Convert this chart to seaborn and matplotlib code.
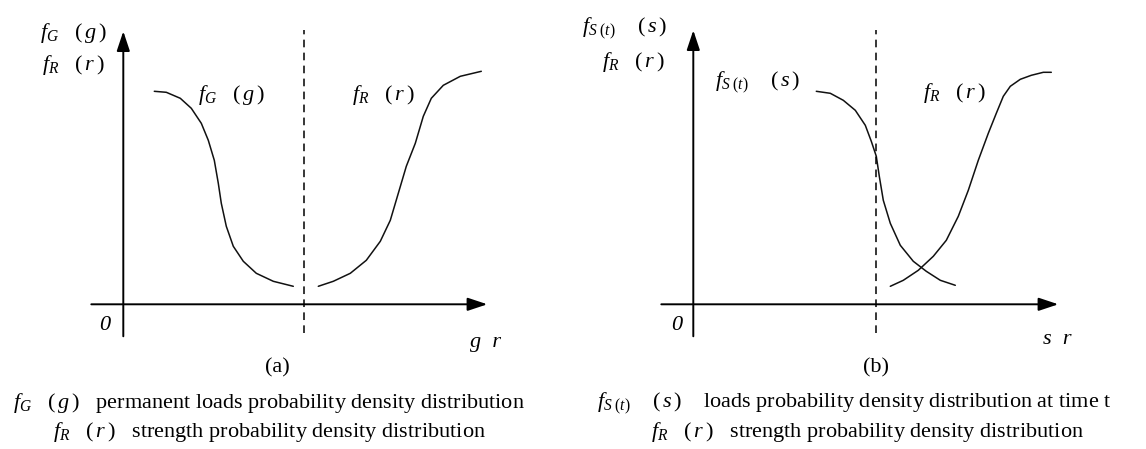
import matplotlib
matplotlib.use("Agg")
import matplotlib.pyplot as plt
import seaborn as sns
import pandas as pd

# Curve points read off the picture, in pixels measured from each panel's origin
# panel (a): the two curves are separated
a_load_x = [31, 43, 57, 68, 78, 85, 91, 95, 98, 103, 110, 120, 133, 150, 170]
a_load_y = [213, 212, 206, 196, 181, 164, 144, 121, 101, 78, 58, 43, 31, 23, 18]
a_strength_x = [195, 210, 227, 243, 257, 267, 275, 283, 292, 300, 308, 320, 337, 358]
a_strength_y = [18, 23, 31, 44, 63, 84, 111, 138, 161, 188, 206, 219, 228, 233]
a_split = 181

# panel (b): the curves overlap
b_load_x = [123, 137, 150, 162, 172, 178, 183, 186, 190, 197, 207, 220, 233, 247, 262]
b_load_y = [213, 211, 204, 194, 179, 163, 148, 128, 104, 81, 59, 43, 33, 24, 19]
b_strength_x = [197, 210, 225, 240, 253, 265, 275, 285, 295, 303, 310, 317, 327, 338, 350, 358]
b_strength_y = [18, 24, 34, 48, 64, 88, 114, 144, 171, 191, 208, 218, 225, 229, 232, 232]
b_split = 183

# labels (the source uses wide full-width brackets, so pad them a bit)
fG = r"$f_G$   $(\,g\,)$"
fR = r"$f_R$   $(\,r\,)$"
fS = r"$f_{S\ (t)}$    $(\,s\,)$"

W, H = 1146, 449

sns.set_style("white")
plt.rcParams["font.family"] = ["Liberation Serif", "DejaVu Sans"]
plt.rcParams["mathtext.fontset"] = "custom"
plt.rcParams["mathtext.rm"] = "Liberation Serif"
plt.rcParams["mathtext.it"] = "Liberation Serif:italic"
plt.rcParams["mathtext.bf"] = "Liberation Serif:bold"

fig = plt.figure(figsize=(W / 100, H / 100), dpi=100)

FS = 16


def ftext(x, y, s, ha="left", size=FS, **kw):
    # place text by pixel position on the figure
    fig.text(x / W, 1 - y / H, s, ha=ha, va="center", fontsize=size, color="k", **kw)


def panel(rect, ox, oy, curves, split, arrow_x, arrow_y):
    ax = fig.add_axes(rect)
    x0 = rect[0] * W - ox
    ax.set_xlim(x0, x0 + rect[2] * W)
    ax.set_ylim(oy - H, oy)
    ax.set_axis_off()

    for cx, cy in curves:
        df = pd.DataFrame({"x": cx, "y": cy})
        sns.lineplot(data=df, x="x", y="y", ax=ax, color="#111111", lw=1.1,
                     sort=False, estimator=None,
                     solid_joinstyle="round", solid_capstyle="round")

    ax.plot([split, split], [-29, 274], color="k", lw=1.1, ls=(0, (5, 3.5)))

    arr = dict(arrowstyle="-|>,head_length=1.2,head_width=0.4", color="k",
               lw=1.4, shrinkA=0, shrinkB=0, mutation_scale=10)
    ax.annotate("", xy=(arrow_x, 0), xytext=(-32, 0), arrowprops=arr)
    ax.annotate("", xy=(0, arrow_y), xytext=(0, -32), arrowprops=arr)
    return ax


panel([0, 0, 0.5, 1], 123.3, 304.3,
      [(a_load_x, a_load_y), (a_strength_x, a_strength_y)], a_split, 364, 273)
panel([0.5, 0, 0.5, 1], 693.3, 304.3,
      [(b_load_x, b_load_y), (b_strength_x, b_strength_y)], b_split, 365, 274)

# panel (a) text
ftext(40, 33, fG)
ftext(42, 65, fR)
ftext(198, 95, fG)
ftext(352, 95, fR)
ftext(105, 325, "0", ha="center", style="italic")
ftext(486, 342, "g  r", ha="center", style="italic")
ftext(277, 368, "(a)", ha="center")
ftext(13, 403, fG + "   permanent loads probability density distribution")
ftext(53, 432, fR + "   strength probability density distribution")

# panel (b) text
ftext(582, 28, fS)
ftext(602, 62, fR)
ftext(715, 82, fS)
ftext(923, 93, fR)
ftext(677, 325, "0", ha="center", style="italic")
ftext(1057, 340, "s  r", ha="center", style="italic")
ftext(876, 368, "(b)", ha="center")
ftext(597, 403, fS + "    loads probability density distribution at time t")
ftext(651, 432, fR + "   strength probability density distribution")

fig.savefig("out.png", dpi=100, facecolor="white")
